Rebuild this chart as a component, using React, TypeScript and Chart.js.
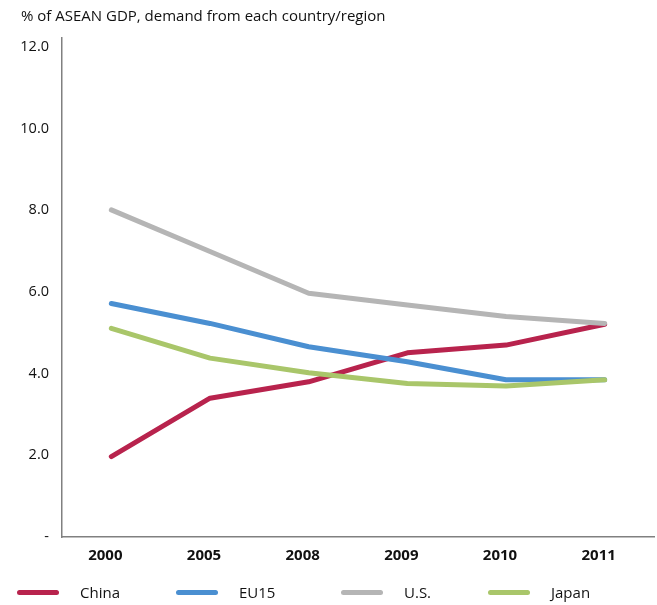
import React, { useEffect, useRef } from "react";
import { Chart, registerables } from "chart.js";

Chart.register(...registerables);

const titleText = "% of ASEAN GDP, demand from each country/region";
const categories = ["2000", "2005", "2008", "2009", "2010", "2011"];
const china = [1.97, 3.4, 3.8, 4.51, 4.7, 5.21];
const eu15 = [5.72, 5.23, 4.66, 4.29, 3.85, 3.85];
const us = [8.01, 6.99, 5.97, 5.68, 5.4, 5.23];
const japan = [5.11, 4.38, 4.02, 3.76, 3.7, 3.85];
const yTicks = [0, 2, 4, 6, 8, 10, 12];
const seriesNames = ["China", "EU15", "U.S.", "Japan"];
const seriesColors = ["#B8234D", "#4A8FD1", "#B5B5B5", "#A9C66A"];
const seriesData = [china, eu15, us, japan];

const FONT = "'Open Sans', 'Noto Sans', sans-serif";
const legendX = [17, 176, 341, 488];

export default function App() {
  const ref = useRef<HTMLCanvasElement | null>(null);

  useEffect(() => {
    if (!ref.current) return;
    const chart = new Chart(ref.current, {
      type: "line",
      data: {
        labels: categories,
        datasets: seriesData.map((d, i) => ({
          label: seriesNames[i],
          data: d,
          borderColor: seriesColors[i],
          backgroundColor: seriesColors[i],
          borderWidth: 5,
          pointRadius: 0,
          tension: 0,
          borderCapStyle: "round" as const,
          borderJoinStyle: "round" as const,
          order: 4 - i,
        })),
      },
      options: {
        animation: false,
        responsive: false,
        maintainAspectRatio: false,
        layout: { padding: { left: 0, right: 3, top: 38, bottom: 38 } },
        plugins: {
          legend: { display: false },
          title: { display: false },
          tooltip: { enabled: false },
        },
        scales: {
          x: {
            type: "category",
            offset: true,
            grid: { display: false, drawTicks: false },
            border: { display: true, color: "#808080", width: 1.5 },
            ticks: {
              color: "#111",
              font: { family: FONT, size: 15, weight: "bold" },
              padding: 10,
              labelOffset: -6,
              maxRotation: 0,
            },
            afterFit: (s: any) => {
              s.height = 30;
            },
          },
          y: {
            type: "linear",
            min: 0,
            max: 12.22,
            grid: { display: false, drawTicks: false },
            border: { display: true, color: "#808080", width: 1.5 },
            afterBuildTicks: (s: any) => {
              s.ticks = yTicks.map((v) => ({ value: v }));
            },
            ticks: {
              color: "#111",
              font: { family: FONT, size: 14.5 },
              padding: 13,
              callback: (v: any) => (Number(v) === 0 ? "-" : Number(v).toFixed(1)),
            },
            afterFit: (s: any) => {
              s.width = 62;
            },
          },
        },
      },
    });
    return () => chart.destroy();
  }, []);

  return (
    <div
      style={{
        position: "absolute",
        left: 0,
        top: 0,
        width: 657,
        height: 605,
        background: "#fff",
        fontFamily: FONT,
        color: "#111",
      }}
    >
      <canvas ref={ref} width={657} height={605} style={{ position: "absolute", left: 0, top: 0 }} />
      <div
        style={{
          position: "absolute",
          left: 21,
          top: 5,
          fontSize: 15,
          lineHeight: "20px",
          whiteSpace: "nowrap",
        }}
      >
        {titleText}
      </div>
      {seriesNames.map((n, i) => (
        <div
          key={n}
          style={{
            position: "absolute",
            left: legendX[i],
            top: 582,
            height: 20,
            display: "flex",
            alignItems: "center",
            whiteSpace: "nowrap",
          }}
        >
          <span
            style={{
              display: "inline-block",
              width: 42,
              height: 5,
              borderRadius: 3,
              background: seriesColors[i],
              marginRight: 21,
            }}
          />
          <span style={{ fontSize: 15 }}>{n}</span>
        </div>
      ))}
    </div>
  );
}
